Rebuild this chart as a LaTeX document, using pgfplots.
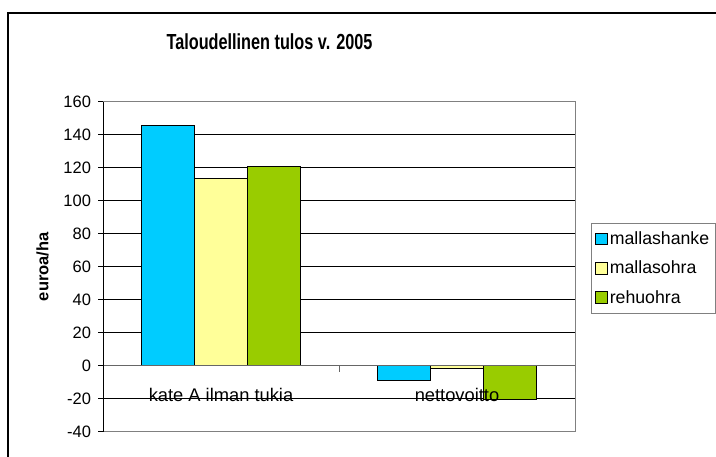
\documentclass[border=0pt]{standalone}
\usepackage{pgfplots}
\pgfplotsset{compat=1.18}
\usepackage{fontspec}
\setmainfont{Liberation Sans}
\newfontfamily\titlefont[FakeStretch=0.745]{Liberation Sans}
\definecolor{cblue}{HTML}{00CCFF}
\definecolor{cyellow}{HTML}{FFFF99}
\definecolor{cgreen}{HTML}{99CC00}
\pgfplotsset{sqlegend/.style={legend image code/.code={\draw[##1,draw=black,line width=0.9bp] (0bp,-5.85bp) rectangle (11.7bp,5.85bp);}}}
\pgfplotsset{
  layers/labelsontop/.define layer set={
    axis background,axis grid,axis ticks,axis lines,
    pre main,main,axis tick labels,axis descriptions,axis foreground
  }{
    grid style={/pgfplots/on layer=axis grid},
    tick style={/pgfplots/on layer=axis ticks},
    axis line style={/pgfplots/on layer=axis lines},
    label style={/pgfplots/on layer=axis descriptions},
    legend style={/pgfplots/on layer=axis descriptions},
    title style={/pgfplots/on layer=axis descriptions},
    colorbar style={/pgfplots/on layer=axis descriptions},
    ticklabel style={/pgfplots/on layer=axis tick labels},
    axis background@ style={/pgfplots/on layer=axis background},
    3d box foreground style={/pgfplots/on layer=axis foreground},
  },
}
\begin{document}
\begin{tikzpicture}[x=1bp,y=1bp]
\draw[line width=1.2bp] (8,0) -- (8,444) -- (716,444);
\node[font=\titlefont\bfseries\fontsize{21.8bp}{24bp}\selectfont, anchor=base] at (269.5,407.5) {Taloudellinen tulos v. 2005};
\begin{axis}[
  set layers=labelsontop,
  at={(103bp,25.3bp)}, anchor=south west, scale only axis,
  width=472bp, height=330bp,
  ybar=0pt, bar width=52.7bp,
  every axis plot post/.append style={sqlegend},
  xmin=-0.5, xmax=1.5, ymin=-40, ymax=160,
  xtick={0,1}, xticklabels={kate A ilman tukia, nettovoitto},
  major x tick style={draw=none},
  ytick={-40,-20,...,160},
  ymajorgrids, grid style={black, line width=0.8bp},
  axis line style={gray, line width=1bp},
  tick align=outside, ytick pos=left, major tick length=5bp,
  y tick style={black, line width=0.8bp},
  /pgf/number format/assume math mode=true,
  yticklabel style={font=\fontsize{16.5bp}{18bp}\selectfont, xshift=-3.5bp},
  xticklabel style={font=\fontsize{18.3bp}{20bp}\selectfont, anchor=base, yshift=35.2bp},
  ylabel={euroa/ha},
  ylabel style={font=\bfseries\fontsize{16.5bp}{18bp}\selectfont, at={(axis description cs:-0.1278,0.5)}, anchor=center},
  legend style={at={(1.0333,0.6333)}, anchor=north west, draw=gray, line width=1bp, fill=white,
    font=\fontsize{17.7bp}{20bp}\selectfont, row sep=11bp, inner ysep=6.5bp, inner xsep=4bp},
  legend cell align=left,
]
\addplot[fill=cblue, draw=black, line width=1bp] coordinates {(0,145.7) (1,-8.7)};
\addplot[fill=cyellow, draw=black, line width=1bp] coordinates {(0,113.2) (1,-1.5)};
\addplot[fill=cgreen, draw=black, line width=1bp] coordinates {(0,120.8) (1,-20.5)};
\legend{mallashanke, mallasohra, rehuohra}
\draw[gray!80!black, line width=1bp] (axis cs:-0.5,0) -- (axis cs:1.5,0);
\draw[gray!80!black, line width=1bp] (axis cs:0.5,0) -- ++(0bp,-6bp);
\draw[gray!80!black, line width=1bp] (axis cs:1.5,0) -- ++(0bp,-6bp);
\draw[black, line width=1bp] (rel axis cs:0,0) -- (rel axis cs:0,1);
\end{axis}
\pgfresetboundingbox
\path[use as bounding box] (0,0) rectangle (716,457);
\end{tikzpicture}
\end{document}
